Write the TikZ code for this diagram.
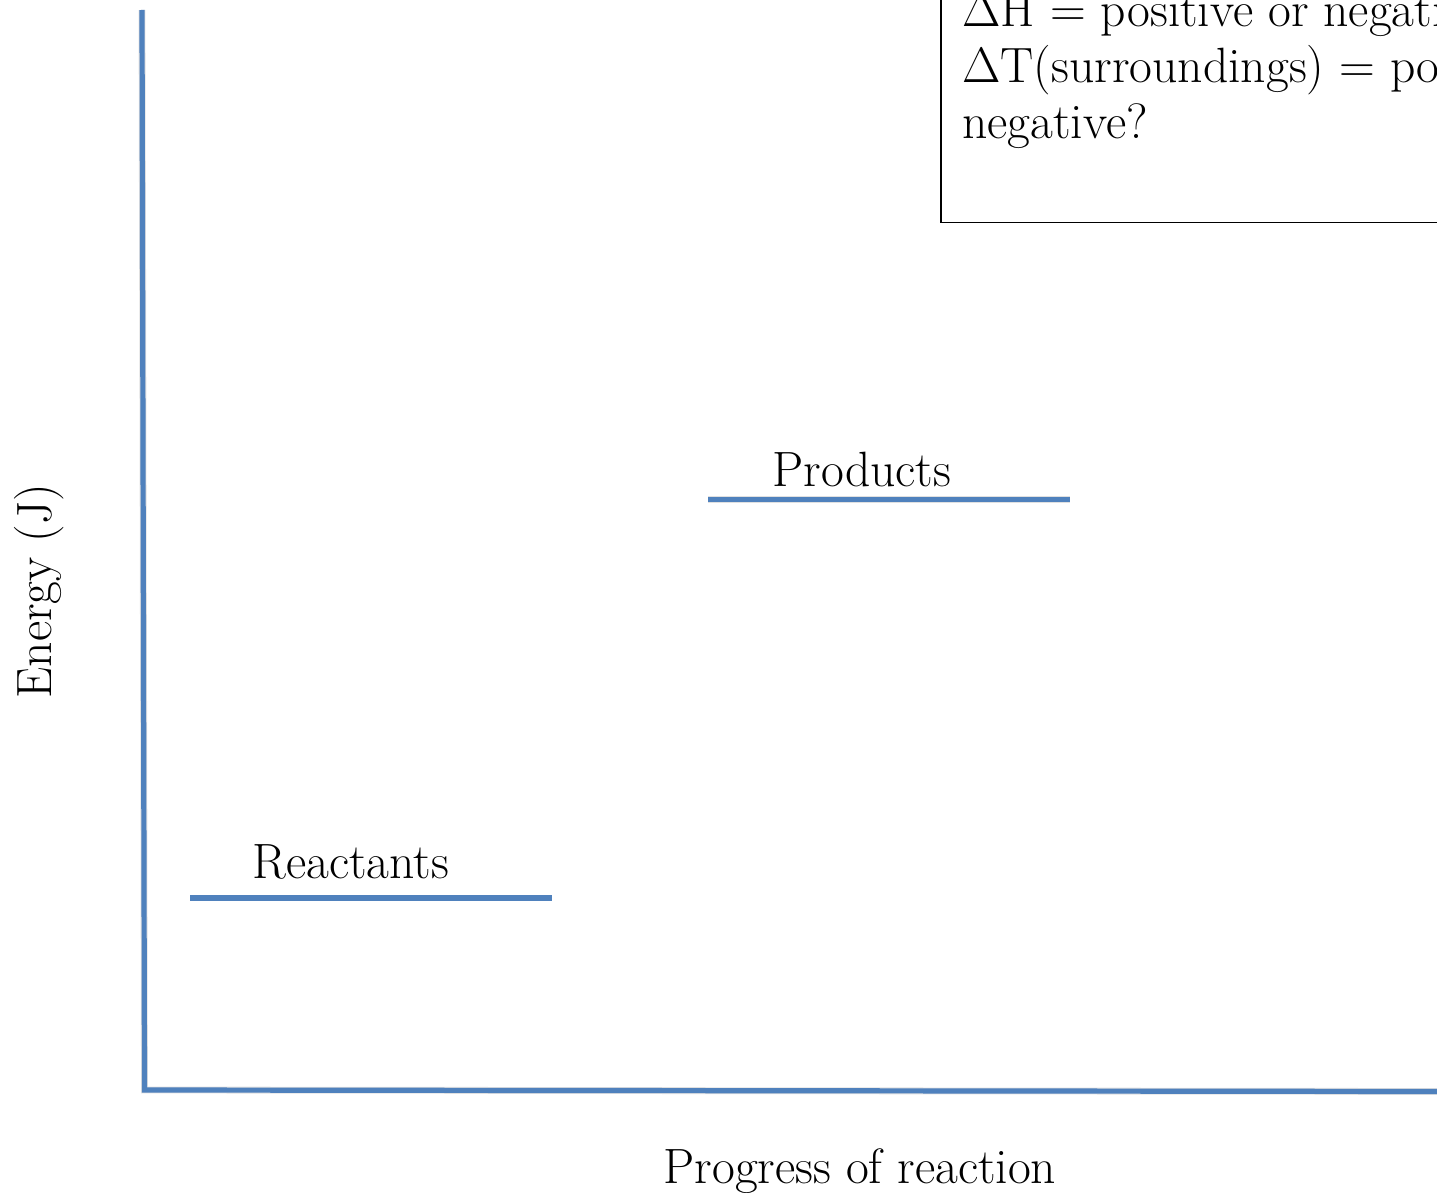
\documentclass[tikz,border=0pt]{standalone}
\usepackage{amsmath}
\usepackage{tikz}
\usetikzlibrary{positioning, calc}

\definecolor{axisblue}{HTML}{4F81BD}

\tikzset{
    label text/.style={font=\fontsize{24.8}{30}\selectfont, inner sep=0pt},
    level line/.style={axisblue, line width=2.6pt},
    soft shadow/.style={black, opacity=0.12, line width=3.4pt}
}

\begin{document}
\begin{tikzpicture}[x=0.5pt, y=-0.5pt]
    % Page frame
    \useasboundingbox (0,0) rectangle (1437,1193);
    \clip (0,0) rectangle (1437,1193);

    % Energy levels and axes corners
    \coordinate (ytop) at (142,10);
    \coordinate (origin) at (144.5,1090);
    \coordinate (xend) at (1450,1091.5);
    \coordinate (r1) at (190,898);
    \coordinate (r2) at (552,898);
    \coordinate (p1) at (708,499.5);
    \coordinate (p2) at (1070,499.5);

    % Shadows under the blue lines
    \begin{scope}[shift={(1.5,3.5)}]
        \draw[soft shadow] (ytop) -- (origin) -- (xend);
        \draw[soft shadow] (r1) -- (r2);
        \draw[soft shadow] (p1) -- (p2);
    \end{scope}

    % Axes
    \draw[level line, line join=miter] (ytop) -- (origin) -- (xend);

    % Reactants and products
    \draw[level line] (r1) -- (r2);
    \draw[level line] (p1) -- (p2);
    \node[label text, anchor=base west] (reactlbl) at (252,878) {Reactants};
    \node[label text, anchor=base west] (prodlbl) at (772,486) {Products};

    % Axis titles
    \node[label text, anchor=base, rotate=90] (ylbl) at (51,591) {Energy (J)};
    \node[label text, anchor=base] (xlbl) at (860,1183) {Progress of reaction};

    % Question box
    \draw[line width=0.95pt] (941,-10) -- (941,222.5) -- (1450,222.5);
    \node[label text, anchor=base west] (dh) at (962,27) {$\Delta$H = positive or negative?};
    \node[label text, anchor=base west] (dt) at (962,83) {$\Delta$T(surroundings) = positive or};
    \node[label text, anchor=base west] (neg) at (962,139) {negative?};
\end{tikzpicture}
\end{document}
